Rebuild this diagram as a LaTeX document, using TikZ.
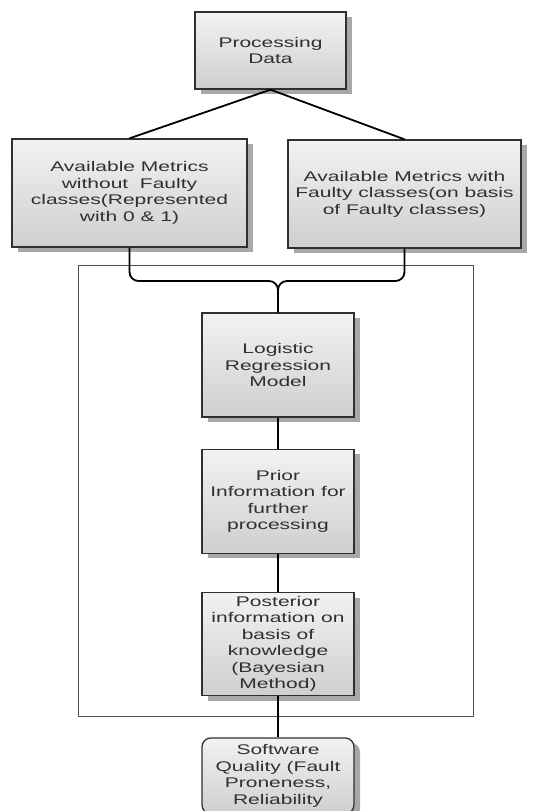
\documentclass[tikz,border=0pt]{standalone}
\usepackage{fontspec}
\setmainfont{Liberation Sans}
\newfontfamily\widefont[FakeStretch=1.5]{Liberation Sans}
\usetikzlibrary{positioning,shadows}
\definecolor{Ink}{HTML}{303030}
\definecolor{Frame}{HTML}{505050}
\definecolor{Top}{HTML}{F2F2F2}
\definecolor{Bottom}{HTML}{CFCFCF}
\definecolor{Shade}{HTML}{A8A8A8}
\tikzset{stagebox/.style={draw=Ink,line width=1.3pt,top color=Top,bottom color=Bottom,
    align=center,inner sep=1pt,text=Ink,font=\widefont\fontsize{14}{16.5}\selectfont,
    drop shadow={shadow xshift=6pt,shadow yshift=-5pt,fill=Shade,opacity=1}},
  colbox/.style={stagebox,minimum width=152pt,minimum height=104pt},
  link/.style={line width=1.8pt,draw=black},
  frame/.style={draw=Frame,line width=1pt}}
\begin{document}
\begin{tikzpicture}[x=1pt,y=-1pt]
    \useasboundingbox (0,0) rectangle (547,811);
    \node[stagebox,minimum width=151pt,minimum height=77pt] (pd) at (270.5,50.5) {Processing\\Data};
    \node[stagebox,minimum width=235pt,minimum height=108pt] (mwo) at (129.5,193) {Available Metrics\\without\ \ Faulty\\classes(Represented\\with 0 \& 1)};
    \node[stagebox,minimum width=233pt,minimum height=108pt] (mw) at (404.5,194) {Available Metrics with\\Faulty classes(on basis\\of Faulty classes)};
    \draw[frame] (78,265) rectangle (473,716);
    \node[colbox] (lr) at (278,365) {Logistic\\Regression\\Model};
    \node[colbox,below=31pt of lr] (prior) {Prior\\Information for\\further\\processing};
    \node[colbox,minimum height=103pt,below=38pt of prior] (post) {Posterior\\information on\\basis of\\knowledge\\(Bayesian\\Method)};
    \node[colbox,minimum height=76pt,rounded corners=9pt,below=41pt of post] (sq) {Software\\Quality (Fault\\Proneness,\\Reliability};
    \draw[link] (pd.south) -- (mwo.north);
    \draw[link] (pd.south) -- (mw.north);
    \draw[link,rounded corners=9pt] (mwo.south) -- (mwo.south |- 0,281) -- (lr.north |- 0,281) -- (lr.north);
    \draw[link,rounded corners=9pt] (mw.south) -- (mw.south |- 0,281) -- (lr.north |- 0,281) -- (lr.north);
    \draw[link] (lr) -- (prior);
    \draw[link] (prior) -- (post);
    \draw[link] (post) -- (sq);
  \end{tikzpicture}
\end{document}
